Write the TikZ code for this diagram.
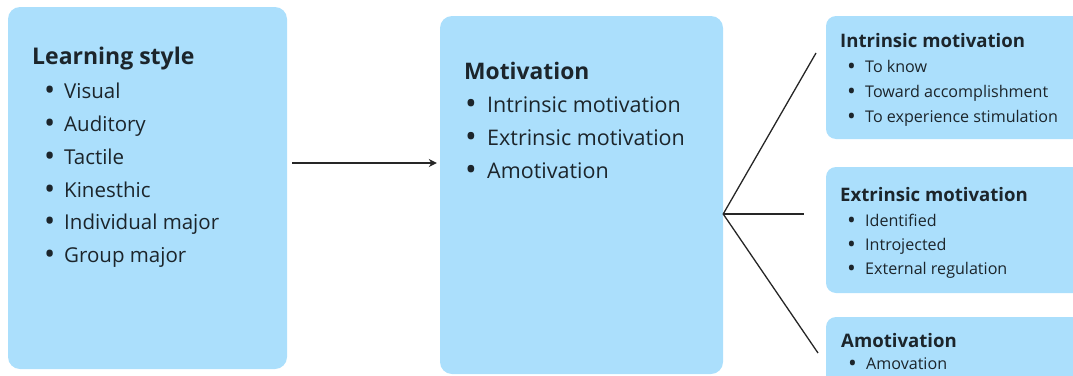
\documentclass[tikz,border=0pt]{standalone}
\usepackage{fontspec}
\setmainfont{Open Sans}
\usetikzlibrary{arrows.meta}
\definecolor{boxfill}{HTML}{ABDFFC}
\definecolor{ink}{HTML}{1C252B}
\tikzset{
  box/.style={draw=none, fill=boxfill, rounded corners=12pt, inner sep=0pt},
  sbox/.style={draw=none, fill=boxfill, rounded corners=10pt, inner sep=0pt},
  txt/.style={anchor=base west, inner sep=0pt, text=ink},
  conn/.style={draw=black!85, line width=1.3pt},
  arrowline/.style={conn, -{Stealth[length=8pt,width=8pt]}},
}
\newcommand{\bul}[2]{\makebox[#1][l]{\raisebox{-0.13em}{\scalebox{1.45}{\textbullet}}}#2}
\begin{document}
\begin{tikzpicture}[x=1pt,y=-1pt]
\useasboundingbox (0,0) rectangle (1073,375);
% boxes
\node[box, minimum width=279pt, minimum height=362pt] (b1) at (147.5,188) {};
\node[box, minimum width=283pt, minimum height=358pt] (b2) at (581.5,195) {};
\node[sbox, minimum width=264pt, minimum height=123pt] (b3) at (958,77.5) {};
\node[sbox, minimum width=264pt, minimum height=126pt] (b4) at (958,230) {};
\node[sbox, minimum width=264pt, minimum height=83pt] (b5) at (958,358.5) {};
% box 1 text
\node[txt, font=\fontsize{23}{26}\selectfont\bfseries] (t1) at (32,64) {Learning style};
\foreach \y/\s [count=\i] in {98/Visual,131/Auditory,164/Tactile,197/Kinesthic,229/Individual major,262/Group major}
  \node[txt, font=\fontsize{20.5}{25}\selectfont] (l\i) at (44,\y) {\bul{20pt}{\s}};
% box 2 text
\node[txt, font=\fontsize{22.8}{28}\selectfont\bfseries] (t2) at (464,79) {Motivation};
\foreach \y/\s [count=\i] in {112/Intrinsic motivation,145/Extrinsic motivation,178/Amotivation}
  \node[txt, font=\fontsize{21.5}{26}\selectfont] (m\i) at (465,\y) {\bul{22pt}{\s}};
% box 3 text
\node[txt, font=\fontsize{18.6}{22}\selectfont\bfseries] (t3) at (840,47) {Intrinsic motivation};
\foreach \y/\s [count=\i] in {72/To know,97/Toward accomplishment,122/To experience stimulation}
  \node[txt, font=\fontsize{16.1}{20}\selectfont] (p\i) at (847,\y) {\bul{18pt}{\s}};
% box 4 text
\node[txt, font=\fontsize{18.6}{22}\selectfont\bfseries] (t4) at (840,201) {Extrinsic motivation};
\foreach \y/\s [count=\i] in {226/Identified,250/Introjected,274/External regulation}
  \node[txt, font=\fontsize{16.1}{20}\selectfont] (q\i) at (847,\y) {\bul{18pt}{\s}};
% box 5 text
\node[txt, font=\fontsize{18.6}{22}\selectfont\bfseries] (t5) at (841,347) {Amotivation};
\node[txt, font=\fontsize{16.1}{20}\selectfont] (r1) at (848,369) {\bul{18pt}{Amovation}};
% connectors
\draw[arrowline, shorten <=5pt, shorten >=3pt] (b1.east |- 0,163) -- (b2.west |- 0,163);
\coordinate (apex) at (b2.east |- 0,214);
\coordinate (e1) at (816,53);
\coordinate (e2) at (804,214);
\coordinate (e3) at (818,353);
\draw[conn] (e1) -- (apex) -- (e3);
\draw[conn] (apex) -- (e2);
\end{tikzpicture}
\end{document}
